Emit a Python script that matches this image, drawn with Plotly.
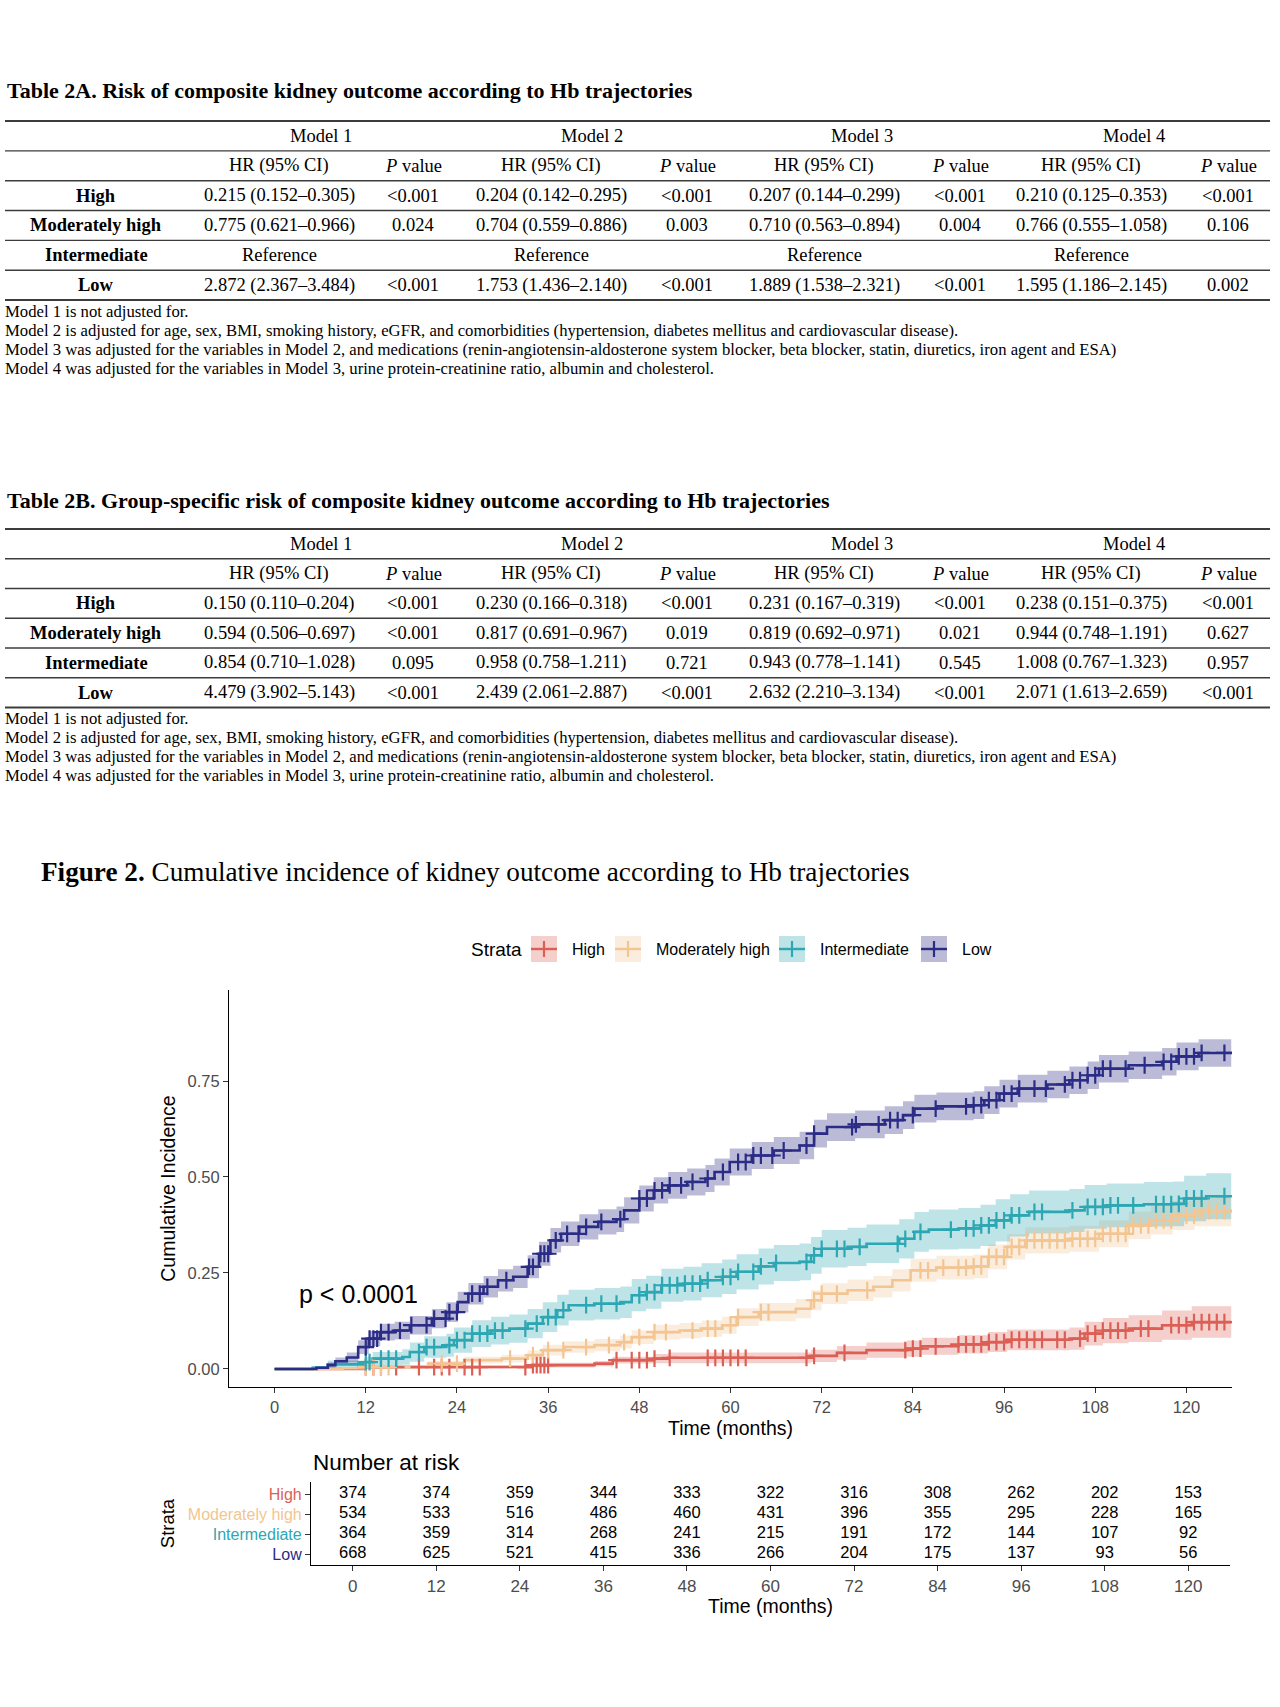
import plotly.graph_objects as go

W, H = 1280, 1707
SERIF = "Liberation Serif, Times New Roman, serif"
SANS = "Liberation Sans, Arial, sans-serif"

# ---------------- table data ----------------
models = ["Model 1", "Model 2", "Model 3", "Model 4"]
strata = ["High", "Moderately high", "Intermediate", "Low"]
footnotes = [
    "Model 1 is not adjusted for.",
    "Model 2 is adjusted for age, sex, BMI, smoking history, eGFR, and comorbidities (hypertension, diabetes mellitus and cardiovascular disease).",
    "Model 3 was adjusted for the variables in Model 2, and medications (renin-angiotensin-aldosterone system blocker, beta blocker, statin, diuretics, iron agent and ESA)",
    "Model 4 was adjusted for the variables in Model 3, urine protein-creatinine ratio, albumin and cholesterol.",
]

t2a_high = ["0.215 (0.152–0.305)", "<0.001", "0.204 (0.142–0.295)", "<0.001", "0.207 (0.144–0.299)", "<0.001", "0.210 (0.125–0.353)", "<0.001"]
t2a_modhigh = ["0.775 (0.621–0.966)", "0.024", "0.704 (0.559–0.886)", "0.003", "0.710 (0.563–0.894)", "0.004", "0.766 (0.555–1.058)", "0.106"]
t2a_inter = ["Reference", "", "Reference", "", "Reference", "", "Reference", ""]
t2a_low = ["2.872 (2.367–3.484)", "<0.001", "1.753 (1.436–2.140)", "<0.001", "1.889 (1.538–2.321)", "<0.001", "1.595 (1.186–2.145)", "0.002"]

t2b_high = ["0.150 (0.110–0.204)", "<0.001", "0.230 (0.166–0.318)", "<0.001", "0.231 (0.167–0.319)", "<0.001", "0.238 (0.151–0.375)", "<0.001"]
t2b_modhigh = ["0.594 (0.506–0.697)", "<0.001", "0.817 (0.691–0.967)", "0.019", "0.819 (0.692–0.971)", "0.021", "0.944 (0.748–1.191)", "0.627"]
t2b_inter = ["0.854 (0.710–1.028)", "0.095", "0.958 (0.758–1.211)", "0.721", "0.943 (0.778–1.141)", "0.545", "1.008 (0.767–1.323)", "0.957"]
t2b_low = ["4.479 (3.902–5.143)", "<0.001", "2.439 (2.061–2.887)", "<0.001", "2.632 (2.210–3.134)", "<0.001", "2.071 (1.613–2.659)", "<0.001"]

# ---------------- cumulative incidence ----------------
high_t = [0, 12, 33.8, 42.1, 44.5, 49.9, 51.8, 70.6, 74, 77.9, 83.2, 85.2, 90, 93.9, 96.4, 104.6, 106.6, 109, 112.4, 116.8, 120.7, 125.9]
high_v = [0, 0.005, 0.01, 0.014, 0.023, 0.027, 0.029, 0.034, 0.042, 0.049, 0.053, 0.059, 0.064, 0.07, 0.076, 0.079, 0.092, 0.10, 0.105, 0.114, 0.122, 0.122]
high_ci = [0, 0.004, 0.006, 0.007, 0.009, 0.012, 0.014, 0.016, 0.018, 0.02, 0.021, 0.022, 0.024, 0.026, 0.027, 0.029, 0.031, 0.033, 0.035, 0.038, 0.041, 0.043]
high_cens = [12, 13, 14, 16, 19, 21, 22, 23, 25, 26, 27, 33, 34, 34.5, 35, 35.5, 36, 45, 47, 48, 49, 50, 52, 57, 58, 59, 60, 61, 62,
             70, 71, 75, 83, 84, 85, 87, 90, 91, 92, 93, 94, 95, 96, 97, 98, 99, 100, 101, 103, 104, 106, 107, 108, 109, 110,
             111, 112, 114, 115, 118, 119, 120, 121, 122, 123, 124, 125]

mod_t = [0, 9, 12, 20.2, 25, 29.9, 33.3, 35.3, 38.2, 42.1, 45.5, 47, 49.9, 53.3, 56.2, 58.9, 60.8, 63.7, 68.6, 70.6, 72, 75.4,
         78.8, 81.3, 83.7, 87.1, 92, 93.9, 96.4, 98.8, 104.6, 108.5, 112.4, 115.3, 118.2, 121.1, 125.9]
mod_v = [0, 0.002, 0.005, 0.014, 0.023, 0.027, 0.036, 0.049, 0.057, 0.062, 0.07, 0.083, 0.096, 0.10, 0.105, 0.114, 0.135, 0.148,
         0.157, 0.179, 0.196, 0.205, 0.214, 0.231, 0.257, 0.264, 0.267, 0.292, 0.318, 0.335, 0.339, 0.352, 0.374, 0.387, 0.40, 0.411, 0.415]
mod_ci = [0, 0.002, 0.004, 0.007, 0.009, 0.01, 0.012, 0.014, 0.015, 0.016, 0.017, 0.018, 0.019, 0.02, 0.021, 0.022, 0.023, 0.024,
          0.025, 0.026, 0.027, 0.028, 0.028, 0.029, 0.03, 0.031, 0.031, 0.032, 0.033, 0.034, 0.034, 0.035, 0.036, 0.037, 0.038, 0.039, 0.04]
mod_cens = [12, 13, 14, 15, 22, 24, 31, 34, 36, 38, 41, 44, 46, 48, 50, 51.5, 55, 57, 58, 60, 61, 64, 65, 71, 72, 74, 78, 85, 86, 88,
            90, 91, 92, 93, 94, 95, 96, 97, 98, 99, 100, 101, 102, 103, 104, 105, 106, 107, 108, 109, 110, 111, 112, 113, 114,
            115, 116, 117, 118, 119, 120, 121, 122, 123, 124, 125]

int_t = [0, 5, 7, 11.9, 12.9, 16.8, 17.8, 19.7, 22.6, 23.6, 26, 28.5, 30.9, 33.3, 35.3, 37.2, 38.7, 42.1, 45.5, 47, 48.9, 50.9,
         53.8, 56.2, 58.9, 60.8, 63.7, 65.7, 69.1, 70.6, 72, 75.4, 77.9, 82.2, 84.2, 86.1, 90, 92.9, 94.9, 96.8, 99.3, 104.6,
         106.6, 109.5, 114.4, 118.2, 119.7, 122.6, 125.9]
int_v = [0, 0.003, 0.012, 0.018, 0.027, 0.031, 0.044, 0.057, 0.062, 0.075, 0.092, 0.10, 0.105, 0.118, 0.135, 0.153, 0.166, 0.17,
         0.174, 0.192, 0.20, 0.218, 0.222, 0.231, 0.24, 0.253, 0.267, 0.276, 0.279, 0.296, 0.313, 0.318, 0.326, 0.339, 0.357,
         0.363, 0.366, 0.374, 0.387, 0.40, 0.409, 0.413, 0.422, 0.426, 0.429, 0.43, 0.444, 0.45, 0.45]
int_ci = [0, 0.005, 0.01, 0.013, 0.017, 0.02, 0.025, 0.028, 0.03, 0.033, 0.035, 0.036, 0.037, 0.038, 0.039, 0.04, 0.04, 0.041,
          0.041, 0.042, 0.043, 0.043, 0.044, 0.044, 0.045, 0.046, 0.047, 0.047, 0.048, 0.048, 0.049, 0.05, 0.05, 0.051, 0.052,
          0.052, 0.053, 0.054, 0.055, 0.055, 0.056, 0.056, 0.057, 0.057, 0.058, 0.058, 0.059, 0.06, 0.06]
int_cens = [12, 12.5, 14, 15, 16, 19, 20, 21, 23, 24, 25, 26, 27, 28, 29, 30, 33, 34.5, 36, 37, 38, 41, 43, 45, 48, 49, 50, 51,
            52, 53, 54, 55, 56, 57, 59, 60, 61, 63, 64, 66, 70, 71, 72, 74, 75, 77, 82, 83, 85, 89, 91, 92, 93, 94, 95, 96, 97,
            98, 100, 101, 105, 107, 108, 109, 110, 111, 113, 116, 117, 118, 119, 120, 121, 122, 125]

low_t = [0, 5.5, 7, 8, 9.5, 11, 12.4, 13.9, 15.8, 17.8, 20.7, 22.6, 24.1, 25.5, 27.5, 29.4, 31.4, 33.3, 34.8, 36.3, 37.7, 40.1,
         42.6, 45, 46, 48, 49.9, 51.8, 54.3, 56.7, 57.9, 59.9, 62.8, 65.7, 69.1, 71, 72.7, 76.4, 80.3, 82.7, 84.2, 87.1, 92,
         93.4, 95.4, 97.8, 101.7, 104.6, 107, 108.5, 112.4, 116.8, 118.7, 121.6, 125.9]
low_v = [0, 0.003, 0.01, 0.02, 0.03, 0.057, 0.079, 0.096, 0.10, 0.114, 0.131, 0.148, 0.174, 0.196, 0.214, 0.231, 0.24, 0.266,
         0.30, 0.335, 0.352, 0.37, 0.383, 0.39, 0.413, 0.444, 0.465, 0.478, 0.487, 0.496, 0.513, 0.539, 0.556, 0.569, 0.582,
         0.613, 0.63, 0.637, 0.648, 0.661, 0.678, 0.684, 0.687, 0.70, 0.717, 0.73, 0.741, 0.752, 0.765, 0.782, 0.791, 0.80,
         0.814, 0.823, 0.826]
low_ci = [0, 0.004, 0.007, 0.01, 0.013, 0.018, 0.02, 0.022, 0.023, 0.024, 0.025, 0.026, 0.027, 0.028, 0.028, 0.029, 0.029, 0.03,
          0.031, 0.032, 0.032, 0.033, 0.033, 0.033, 0.034, 0.034, 0.034, 0.035, 0.035, 0.035, 0.035, 0.035, 0.035, 0.035, 0.036,
          0.036, 0.036, 0.036, 0.036, 0.036, 0.036, 0.036, 0.036, 0.036, 0.036, 0.036, 0.036, 0.036, 0.036, 0.036, 0.036, 0.036,
          0.036, 0.036, 0.036]
low_cens = [12, 12.5, 13, 13.5, 14, 15, 16.5, 18, 20, 21, 22.5, 23, 24, 26, 27, 28, 30.5, 33.5, 34, 35, 35.5, 36, 37, 38.5, 40,
            41, 43, 45.5, 48, 49, 50, 51, 52, 53.5, 55, 57, 59, 61, 62, 63, 64, 65.5, 67, 70, 71, 76, 76.5, 79.5, 81, 82, 84, 87,
            91, 92, 93, 94, 95, 96, 97, 98, 100, 101.5, 104, 105, 106, 107, 108, 109, 110, 112, 114.5, 117, 118, 119, 120, 121,
            122, 125]

# ---------------- number at risk ----------------
risk_times = [0, 12, 24, 36, 48, 60, 72, 84, 96, 108, 120]
risk_high = [374, 374, 359, 344, 333, 322, 316, 308, 262, 202, 153]
risk_modhigh = [534, 533, 516, 486, 460, 431, 396, 355, 295, 228, 165]
risk_inter = [364, 359, 314, 268, 241, 215, 191, 172, 144, 107, 92]
risk_low = [668, 625, 521, 415, 336, 266, 204, 175, 137, 93, 56]

colors = {"High": "#DC5F55", "Moderately high": "#F2C592", "Intermediate": "#2CA7B3", "Low": "#2B2C85"}
fills = {"High": "rgba(220,95,85,0.30)", "Moderately high": "rgba(242,197,146,0.30)",
         "Intermediate": "rgba(44,167,179,0.30)", "Low": "rgba(43,44,133,0.32)"}

curves = {
    "High": (high_t, high_v, high_ci, high_cens),
    "Moderately high": (mod_t, mod_v, mod_ci, mod_cens),
    "Intermediate": (int_t, int_v, int_ci, int_cens),
    "Low": (low_t, low_v, low_ci, low_cens),
}
risk = {"High": risk_high, "Moderately high": risk_modhigh, "Intermediate": risk_inter, "Low": risk_low}


def step_at(ts, vs, t):
    v = vs[0]
    for ti, vi in zip(ts, vs):
        if ti <= t:
            v = vi
        else:
            break
    return v


fig = go.Figure()

# confidence bands
for name in strata:
    ts, vs, ci, _ = curves[name]
    fig.add_trace(go.Scatter(x=ts, y=[v - c for v, c in zip(vs, ci)], mode="lines", line=dict(width=0, shape="hv"),
                             showlegend=False, hoverinfo="skip"))
    fig.add_trace(go.Scatter(x=ts, y=[v + c for v, c in zip(vs, ci)], mode="lines", line=dict(width=0, shape="hv"),
                             fill="tonexty", fillcolor=fills[name], showlegend=False, hoverinfo="skip"))

# step curves
for name in strata:
    ts, vs, _, _ = curves[name]
    fig.add_trace(go.Scatter(x=ts, y=vs, mode="lines", name=name, line=dict(color=colors[name], width=2.6, shape="hv"),
                             showlegend=False))

# censor marks
for name in strata:
    ts, vs, _, cens = curves[name]
    fig.add_trace(go.Scatter(x=cens, y=[step_at(ts, vs, t) for t in cens], mode="markers", showlegend=False,
                             marker=dict(symbol="cross-thin", size=12, line=dict(color=colors[name], width=2.2)),
                             hoverinfo="skip"))

# number-at-risk table
for name in strata:
    fig.add_trace(go.Scatter(x=risk_times, y=[name] * len(risk_times), text=[str(n) for n in risk[name]],
                             mode="text", textposition="middle center", xaxis="x2", yaxis="y2", showlegend=False,
                             textfont=dict(family=SANS, size=16.5, color="black"), hoverinfo="skip"))

# ---------------- layout helpers (pixel positions) ----------------
annotations = []
shapes = []


def px(x):
    return x / W


def py(y):
    return 1 - y / H


def ann(x, y, text, size, family=SERIF, anchor="center", color="black", angle=0):
    annotations.append(dict(x=px(x), y=py(y), xref="paper", yref="paper", text=text, showarrow=False,
                            xanchor=anchor, yanchor="middle", textangle=angle,
                            font=dict(family=family, size=size, color=color)))


def hline(x0, x1, y, width=1.4, color="#3c3c3c"):
    shapes.append(dict(type="line", xref="paper", yref="paper", x0=px(x0), x1=px(x1), y0=py(y), y1=py(y),
                       line=dict(color=color, width=width)))


col_x = [279, 413, 551, 687, 824, 960, 1091, 1228]
model_x = [321, 592, 862, 1134]


def draw_table(title, rows, y_title, y_top, step, y_note):
    ann(5, y_title, "<b>" + title + "</b>", 22, anchor="left")
    for k in range(7):
        hline(5, 1270, y_top + k * step, width=2 if k in (0, 6) else 1.4)
    y_mod = y_top + 0.5 * step
    for m, x in zip(models, model_x):
        ann(x, y_mod, m, 18.5)
    y_hdr = y_top + 1.5 * step
    for j, x in enumerate(col_x):
        ann(x, y_hdr, "HR (95% CI)" if j % 2 == 0 else "<i>P</i> value", 18.5)
    for i, (name, vals) in enumerate(zip(strata, rows)):
        y = y_top + (2.5 + i) * step
        ann(96, y, "<b>" + name + "</b>", 18.5)
        for x, v in zip(col_x, vals):
            if v:
                ann(x, y, v, 18.5)
    for i, note in enumerate(footnotes):
        ann(3, y_note + i * 19.3, note, 16.7, anchor="left")


draw_table("Table 2A. Risk of composite kidney outcome according to Hb trajectories",
           [t2a_high, t2a_modhigh, t2a_inter, t2a_low], 91, 121, 29.85, 311)
draw_table("Table 2B. Group-specific risk of composite kidney outcome according to Hb trajectories",
           [t2b_high, t2b_modhigh, t2b_inter, t2b_low], 500, 529, 29.75, 718)

ann(39, 872, "<b>Figure 2.</b> Cumulative incidence of kidney outcome according to Hb trajectories", 27.2, anchor="left")

# manual ggplot-style legend
ann(469, 949, "Strata", 19, family=SANS, anchor="left")
legend_x = {"High": 544, "Moderately high": 628, "Intermediate": 792, "Low": 934}
for name in strata:
    cx = legend_x[name]
    shapes.append(dict(type="rect", xref="paper", yref="paper", x0=px(cx - 13), x1=px(cx + 13), y0=py(962), y1=py(936),
                       fillcolor=fills[name], line=dict(width=0)))
    hline(cx - 13, cx + 13, 949, width=2.4, color=colors[name])
    shapes.append(dict(type="line", xref="paper", yref="paper", x0=px(cx), x1=px(cx), y0=py(957), y1=py(941),
                       line=dict(color=colors[name], width=2.2)))
    ann(cx + 26, 949, name, 16, family=SANS, anchor="left")

annotations.append(dict(x=3, y=0.195, xref="x", yref="y", text="p < 0.0001", showarrow=False, xanchor="left",
                        yanchor="middle", font=dict(family=SANS, size=25, color="black")))
ann(311, 1462, "Number at risk", 22.5, family=SANS, anchor="left")

axis_common = dict(showline=True, linecolor="black", linewidth=1.2, ticks="outside", ticklen=5, tickcolor="#333333",
                   tickwidth=1.1, showgrid=False, zeroline=False)

fig.update_layout(
    width=W, height=H, margin=dict(l=0, r=0, t=0, b=0),
    paper_bgcolor="white", plot_bgcolor="white", showlegend=False,
    xaxis=dict(domain=[px(229), px(1232)], anchor="y", range=[-6, 126], tickvals=risk_times,
               tickfont=dict(family=SANS, size=16.5, color="#4d4d4d"),
               title=dict(text="Time (months)", font=dict(family=SANS, size=19.5, color="black"), standoff=6),
               **axis_common),
    yaxis=dict(domain=[py(1387), py(990)], anchor="x", range=[-0.047, 0.987], tickvals=[0, 0.25, 0.5, 0.75],
               tickformat=".2f", tickfont=dict(family=SANS, size=16.5, color="#4d4d4d"),
               title=dict(text="Cumulative Incidence", font=dict(family=SANS, size=19.5, color="black"), standoff=6),
               **axis_common),
    xaxis2=dict(domain=[px(311), px(1230)], anchor="y2", range=[-6, 126], tickvals=risk_times,
                tickfont=dict(family=SANS, size=17, color="#4d4d4d"),
                title=dict(text="Time (months)", font=dict(family=SANS, size=19.5, color="black"), standoff=4),
                **axis_common),
    yaxis2=dict(domain=[py(1565), py(1482)], anchor="x2", type="category", categoryorder="array",
                categoryarray=strata[::-1], range=[-0.55, 3.6], tickvals=strata,
                ticktext=["<span style='color:%s'>%s</span>" % (colors[s], s) for s in strata],
                tickfont=dict(family=SANS, size=16),
                title=dict(text="Strata", font=dict(family=SANS, size=18.5, color="black"), standoff=8),
                **axis_common),
    annotations=annotations,
    shapes=shapes,
)

fig.write_html("out.html", config={"displayModeBar": False},
               post_script="document.body.style.margin='0';")
